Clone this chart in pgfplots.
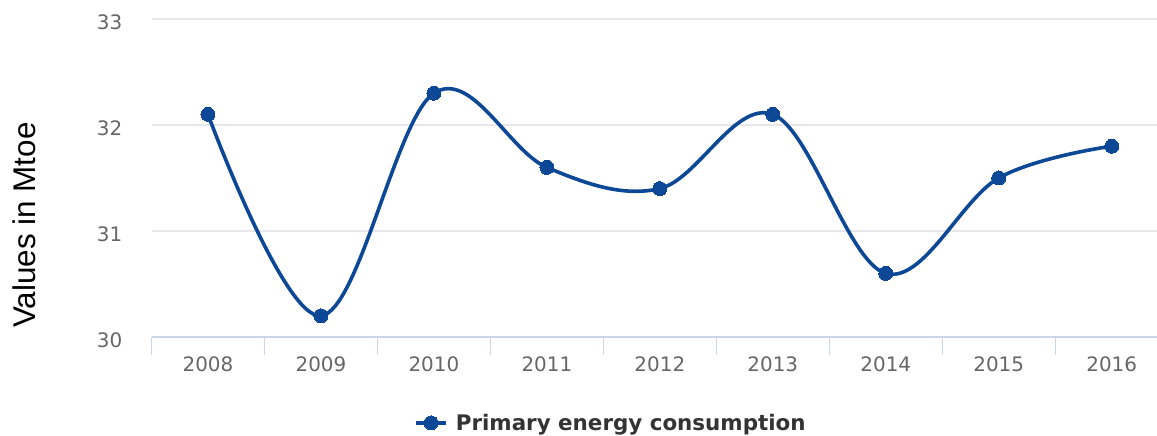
\documentclass[border=0pt]{standalone}
\usepackage{pgfplots}
\pgfplotsset{compat=1.18}
\usepackage{fontspec}
\setmainfont{DejaVu Sans}
\newfontfamily\arialfont{Liberation Sans}
\definecolor{linecol}{RGB}{12,72,150}
\definecolor{gridcol}{RGB}{230,230,235}
\definecolor{axiscol}{RGB}{204,214,235}
\definecolor{labcol}{RGB}{102,102,102}
\definecolor{legcol}{RGB}{51,51,51}
\begin{document}
\begin{tikzpicture}[x=1bp,y=1bp]
\useasboundingbox (0,0) rectangle (1157,436);
\begin{axis}[
  at={(151.5bp,99bp)}, anchor=south west,
  scale only axis, width=1005.5bp, height=318bp,
  xmin=-0.5, xmax=8.4, ymin=30, ymax=33,
  xtick={0,1,2,3,4,5,6,7,8},
  xticklabels={2008,2009,2010,2011,2012,2013,2014,2015,2016},
  minor xtick={-0.5,0.5,1.5,2.5,3.5,4.5,5.5,6.5,7.5},
  ytick={30,31,32,33},
  axis x line*=bottom, axis y line*=left,
  x axis line style={draw=axiscol, line width=1.2bp, -},
  y axis line style={draw=none},
  tick align=outside,
  major tick length=0pt,
  minor tick length=18bp,
  minor x tick style={draw=axiscol, line width=1.2bp},
  ymajorgrids, grid style={draw=gridcol, line width=1.2bp},
  /pgf/number format/assume math mode=true,
  xticklabel style={font=\fontsize{20}{22}\selectfont, text=labcol, anchor=north, inner sep=0pt, yshift=-20bp},
  yticklabel style={font=\fontsize{20}{22}\selectfont, text=labcol, anchor=east, inner sep=0pt, xshift=-29bp, yshift=-3bp},
  ylabel={Values in Mtoe},
  ylabel style={font=\arialfont\fontsize{31.5}{34}\selectfont, at={(axis description cs:-0.1264,0.352)}, anchor=center, rotate=0},
  clip=false,
  legend style={draw=none, fill=none, at={(axis description cs:0.457,-0.270)}, anchor=center,
    font=\bfseries\fontsize{21.5}{24}\selectfont, text=legcol, inner sep=0pt,
    /tikz/every even column/.append style={column sep=0pt}},
  legend image code/.code={\draw[#1, mark repeat=2, mark phase=2] plot coordinates {(0bp,0bp) (15bp,0bp) (30bp,0bp)};},
]
\addplot[linecol, line width=3.6bp, smooth, tension=0.6, mark=*, mark size=7bp, mark options={fill=linecol, draw=linecol, line width=0pt}]
  coordinates {(0,32.1) (1,30.2) (2,32.3) (3,31.6) (4,31.4) (5,32.1) (6,30.6) (7,31.5) (8,31.8)};
\addlegendentry{\hspace{6bp}Primary energy consumption}
\end{axis}
\end{tikzpicture}
\end{document}
